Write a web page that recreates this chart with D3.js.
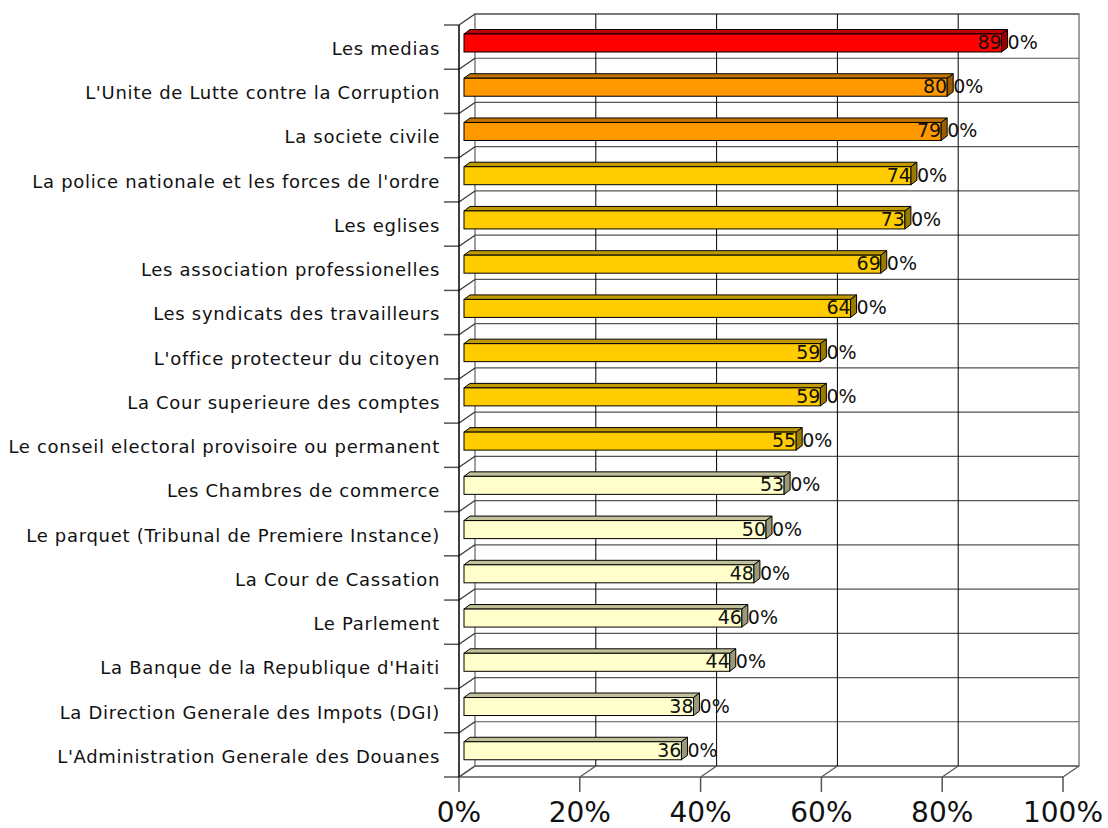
<!DOCTYPE html>
<html>
<head>
<meta charset="utf-8">
<script src="https://cdn.jsdelivr.net/npm/d3@7"></script>
<style>
  body { margin: 0; background: #fff; }
  text { font-family: "DejaVu Sans", Verdana, sans-serif; }
</style>
</head>
<body>
<div id="chart"></div>
<script>
var categories = [
    "Les medias",
    "L'Unite de Lutte contre la Corruption",
    "La societe civile",
    "La police nationale et les forces de l'ordre",
    "Les eglises",
    "Les association professionelles",
    "Les syndicats des travailleurs",
    "L'office protecteur du citoyen",
    "La Cour superieure des comptes",
    "Le conseil electoral provisoire ou permanent",
    "Les Chambres de commerce",
    "Le parquet (Tribunal de Premiere Instance)",
    "La Cour de Cassation",
    "Le Parlement",
    "La Banque de la Republique d'Haiti",
    "La Direction Generale des Impots (DGI)",
    "L'Administration Generale des Douanes"
];
var values = [89, 80, 79, 74, 73, 69, 64, 59, 59, 55, 53, 50, 48, 46, 44, 38, 36];
var groups = ["red", "orange", "orange", "gold", "gold", "gold", "gold", "gold", "gold", "gold",
              "pale", "pale", "pale", "pale", "pale", "pale", "pale"];
var xTicks = [0, 20, 40, 60, 80, 100];

var palette = {
    red:    { front: "#ff0000", top: "#c00000", side: "#990000" },
    orange: { front: "#ff9900", top: "#c07300", side: "#995c00" },
    gold:   { front: "#ffcc00", top: "#c09a00", side: "#997a00" },
    pale:   { front: "#ffffcc", top: "#c0c09a", side: "#99997a" }
};

var width = 1108,
    height = 828;

// 3D wall depth
var ddx = 16, ddy = -11;
// bar position inside depth
var bdx = 5, bdepthX = 6, bdepthY = -4.5, barH = 18;

var svg = d3.select('#chart')
    .append('svg')
    .attr('width', width)
    .attr('height', height);

var x = d3.scaleLinear().domain([0, 100]).range([459, 1063]);
var y = d3.scaleBand().domain(categories).range([25, 777]).padding(0);

var x0 = x(0), x1 = x(100), yTop = y.range()[0], yBot = y.range()[1];

// back wall
svg.append('rect')
    .attr('x', x0 + ddx).attr('y', yTop + ddy)
    .attr('width', x1 - x0).attr('height', yBot - yTop)
    .attr('fill', 'none')
    .attr('stroke', '#808080')
    .attr('stroke-width', 1.5);

// horizontal gridlines on back wall + side wall diagonals
var bounds = categories.map(function (c) { return y(c); }).concat([yBot]);
bounds.forEach(function (yy) {
    svg.append('line')
        .attr('x1', x0 + ddx).attr('x2', x1 + ddx)
        .attr('y1', yy + ddy).attr('y2', yy + ddy)
        .attr('stroke', '#555').attr('stroke-width', 1.2);
    svg.append('line')
        .attr('x1', x0).attr('x2', x0 + ddx)
        .attr('y1', yy).attr('y2', yy + ddy)
        .attr('stroke', '#333').attr('stroke-width', 1.2);
    // category ticks
    svg.append('line')
        .attr('x1', x0 - 15).attr('x2', x0)
        .attr('y1', yy).attr('y2', yy)
        .attr('stroke', '#555').attr('stroke-width', 1.5);
});

// vertical gridlines on back wall, floor diagonals, x ticks
xTicks.forEach(function (t) {
    var xx = x(t);
    if (t > 0 && t < 100) {
        svg.append('line')
            .attr('x1', xx + ddx).attr('x2', xx + ddx)
            .attr('y1', yTop + ddy).attr('y2', yBot + ddy)
            .attr('stroke', '#000').attr('stroke-width', 1);
    }
    svg.append('line')
        .attr('x1', xx).attr('x2', xx + ddx)
        .attr('y1', yBot).attr('y2', yBot + ddy)
        .attr('stroke', '#555').attr('stroke-width', 1.2);
    svg.append('line')
        .attr('x1', xx).attr('x2', xx)
        .attr('y1', yBot).attr('y2', yBot + 15)
        .attr('stroke', '#555').attr('stroke-width', 1.5);
    svg.append('text')
        .attr('x', xx).attr('y', 822)
        .attr('text-anchor', 'middle')
        .attr('font-size', 28)
        .attr('fill', '#111')
        .text(t + '%');
});

// floor front line and front axis
svg.append('line')
    .attr('x1', x0).attr('x2', x1)
    .attr('y1', yBot).attr('y2', yBot)
    .attr('stroke', '#555').attr('stroke-width', 1.5);
svg.append('line')
    .attr('x1', x0).attr('x2', x0)
    .attr('y1', yTop).attr('y2', yBot)
    .attr('stroke', '#000').attr('stroke-width', 1.5);

// category labels (Verdana-like width)
svg.selectAll('.cat')
    .data(categories)
    .enter().append('text')
    .attr('class', 'cat')
    .attr('x', 440)
    .attr('y', function (d) { return y(d) + 30; })
    .attr('text-anchor', 'end')
    .attr('font-size', 18)
    .attr('letter-spacing', 0.7)
    .attr('fill', '#111')
    .text(function (d) { return d; });

// bars
categories.forEach(function (c, i) {
    var col = palette[groups[i]];
    var bx = x0 + bdx,
        ex = x(values[i]) + bdx,
        by = y(c) + 9;
    var g = svg.append('g');

    // top face
    g.append('path')
        .attr('d', 'M' + bx + ',' + by +
            'L' + (bx + bdepthX) + ',' + (by + bdepthY) +
            'L' + (ex + bdepthX) + ',' + (by + bdepthY) +
            'L' + ex + ',' + by + 'Z')
        .attr('fill', col.top).attr('stroke', '#000').attr('stroke-width', 1);
    // front face
    g.append('rect')
        .attr('x', bx).attr('y', by)
        .attr('width', ex - bx).attr('height', barH)
        .attr('fill', col.front).attr('stroke', '#000').attr('stroke-width', 1);
    // value label
    g.append('text')
        .attr('x', ex + 6)
        .attr('y', y(c) + 24)
        .attr('text-anchor', 'middle')
        .attr('font-size', 19)
        .attr('fill', '#111')
        .text(values[i] + '.0%');
    // side face covers the decimal point
    g.append('path')
        .attr('d', 'M' + ex + ',' + by +
            'L' + (ex + bdepthX) + ',' + (by + bdepthY) +
            'L' + (ex + bdepthX) + ',' + (by + bdepthY + barH) +
            'L' + ex + ',' + (by + barH) + 'Z')
        .attr('fill', col.side).attr('stroke', '#000').attr('stroke-width', 1);
});
</script>
</body>
</html>
